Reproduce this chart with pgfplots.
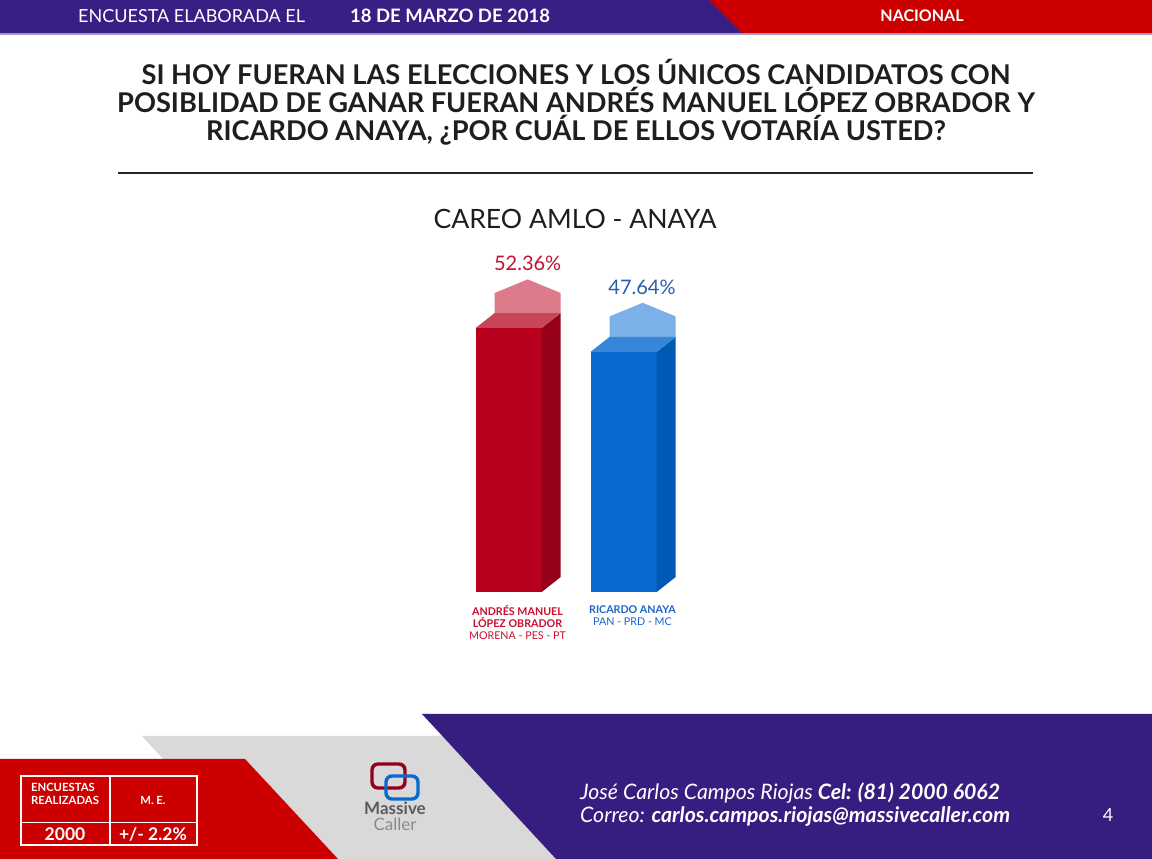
\documentclass[border=0pt]{standalone}
\usepackage{pgfplots}
\pgfplotsset{compat=1.18}
\usepackage{fontspec}
\setmainfont{Lato}
\definecolor{hpurple}{RGB}{57,30,132}
\definecolor{fpurple}{RGB}{55,29,128}
\definecolor{hred}{RGB}{204,0,0}
\definecolor{fgray}{RGB}{217,217,217}
\definecolor{titlec}{RGB}{30,30,30}
\definecolor{redfront}{RGB}{184,0,30}
\definecolor{redside}{RGB}{150,0,24}
\definecolor{redtop}{RGB}{200,68,88}
\definecolor{redpent}{RGB}{220,124,138}
\definecolor{bluefront}{RGB}{8,106,210}
\definecolor{blueside}{RGB}{0,90,180}
\definecolor{bluetop}{RGB}{56,134,218}
\definecolor{bluepent}{RGB}{124,176,232}
\definecolor{redlab}{RGB}{192,18,44}
\definecolor{bluelab}{RGB}{42,93,176}
\definecolor{redtick}{RGB}{200,16,46}
\definecolor{bluetick}{RGB}{30,100,200}
\definecolor{logogray}{RGB}{90,90,90}
\begin{document}
\begin{tikzpicture}[x=1pt,y=1pt]
\fill[white] (0,0) rectangle (1152,859);
\begin{scope}[x=1pt,y=-1pt,shift={(0pt,859pt)}]
% header
\fill[hpurple] (0,0) rectangle (1152,33);
\fill[hred] (709,0) -- (1152,0) -- (1152,33) -- (742,33) -- cycle;
\fill[hpurple!45!white] (0,33) rectangle (1152,35);
\node[anchor=base west, text=white, font=\fontsize{18}{20}\selectfont, inner sep=0] at (78,22.3) {ENCUESTA ELABORADA EL};
\node[anchor=base west, text=white, font=\bfseries\fontsize{18.5}{20}\selectfont, inner sep=0] at (350,22.3) {18 DE MARZO DE 2018};
\node[anchor=base, text=white, font=\bfseries\fontsize{16}{18}\selectfont, inner sep=0] at (922,21.8) {NACIONAL};
% title
\node[anchor=base, text=titlec, font=\bfseries\fontsize{27.2}{30}\selectfont, inner sep=0] at (576,84.5) {SI HOY FUERAN LAS ELECCIONES Y LOS ÚNICOS CANDIDATOS CON};
\node[anchor=base, text=titlec, font=\bfseries\fontsize{27.2}{30}\selectfont, inner sep=0] at (576,112.5) {POSIBLIDAD DE GANAR FUERAN ANDRÉS MANUEL LÓPEZ OBRADOR Y};
\node[anchor=base, text=titlec, font=\bfseries\fontsize{27.2}{30}\selectfont, inner sep=0] at (576,140.5) {RICARDO ANAYA, ¿POR CUÁL DE ELLOS VOTARÍA USTED?};
\draw[line width=1.5, black!85] (118,173) -- (1033,173);
\node[anchor=base, text=titlec, font=\fontsize{26.6}{30}\selectfont, inner sep=0] at (575,228.5) {CAREO AMLO - ANAYA};
% footer shapes
\fill[fgray] (142,736) -- (900,736) -- (900,859) -- (255,859) -- cycle;
\fill[hred] (0,759) -- (245,759) -- (338,859) -- (0,859) -- cycle;
\fill[fpurple] (422,714) -- (1152,714) -- (1152,859) -- (556,859) -- cycle;
% table
\draw[white, line width=1.5] (21,776) rectangle (197,845);
\draw[white, line width=1.5] (110,776) -- (110,845);
\draw[white, line width=1.5] (21,822.5) -- (197,822.5);
\node[text=white, font=\bfseries\fontsize{11.3}{13.5}\selectfont, align=left, inner sep=0] at (65,794) {ENCUESTAS\\REALIZADAS};
\node[anchor=base, text=white, font=\bfseries\fontsize{11.3}{13}\selectfont, inner sep=0] at (153,804.5) {M. E.};
\node[anchor=base, text=white, font=\bfseries\fontsize{17.5}{20}\selectfont, inner sep=0] at (65,840.5) {2000};
\node[anchor=base, text=white, font=\bfseries\fontsize{17.5}{20}\selectfont, inner sep=0] at (153,840.5) {+/- 2.2\%};
% logo
\draw[redfront!80!black, line width=3.4, rounded corners=6] (372,764) rectangle (405,788);
\draw[bluefront, line width=3.4, rounded corners=6] (386,776) rectangle (418,799);
\node[anchor=base, text=logogray, font=\bfseries\fontsize{17}{20}\selectfont, inner sep=0] at (395,815) {Massive};
\node[anchor=base, text=logogray!70, font=\fontsize{17}{20}\selectfont, inner sep=0] at (395,831) {Caller};
% footer text
\node[anchor=base west, text=white, font=\itshape\fontsize{21.3}{24}\selectfont, inner sep=0] at (580,799.5) {José Carlos Campos Riojas \textbf{Cel: (81) 2000 6062}};
\node[anchor=base west, text=white, font=\itshape\fontsize{21.3}{24}\selectfont, inner sep=0] at (580,822.5) {Correo: \textbf{carlos.campos.riojas@massivecaller.com}};
\node[anchor=base, text=white, font=\fontsize{18}{22}\selectfont, inner sep=0] at (1108,822) {4};
\end{scope}
\begin{axis}[
  at={(393.7pt,267pt)}, anchor=south west,
  scale only axis, width=345pt, height=327.73pt,
  xmin=-1, xmax=2, ymin=0, ymax=65,
  clip=false,
  axis y line=none,
  axis x line*=bottom,
  x axis line style={draw=none},
  major tick length=0pt,
  xtick={0,1},
  xticklabels={
    {\textcolor{redtick}{\textbf{ANDRÉS MANUEL}}\\\textcolor{redtick}{\textbf{LÓPEZ OBRADOR}}\\\textcolor{redtick}{MORENA - PES - PT}},
    {\textcolor{bluetick}{\textbf{RICARDO ANAYA}}\\\textcolor{bluetick}{PAN - PRD - MC}}
  },
  xticklabel style={align=center, font=\fontsize{10.7}{12}\selectfont, anchor=north, xshift=8.8pt, yshift=-13pt, inner sep=0pt},
]
% AMLO 52.36
\addplot[draw=none, fill=redpent] coordinates {(-0.122,55.33) (-0.122,59.3) (0.165,62.0) (0.452,59.3) (0.452,55.33)} -- cycle;
\addplot[ybar, bar width=0.574, bar shift=0, draw=none, fill=redfront] coordinates {(0,52.36)};
\addplot[draw=none, fill=redside] coordinates {(0.287,0) (0.452,2.97) (0.452,55.33) (0.287,52.36)} -- cycle;
\addplot[draw=none, fill=redtop] coordinates {(-0.287,52.36) (0.287,52.36) (0.452,55.33) (-0.122,55.33)} -- cycle;
% ANAYA 47.64
\addplot[draw=none, fill=bluepent] coordinates {(0.878,50.61) (0.878,54.66) (1.165,57.36) (1.452,54.66) (1.452,50.61)} -- cycle;
\addplot[ybar, bar width=0.574, bar shift=0, draw=none, fill=bluefront] coordinates {(1,47.64)};
\addplot[draw=none, fill=blueside] coordinates {(1.287,0) (1.452,2.97) (1.452,50.61) (1.287,47.64)} -- cycle;
\addplot[draw=none, fill=bluetop] coordinates {(0.713,47.64) (1.287,47.64) (1.452,50.61) (0.878,50.61)} -- cycle;
\node[text=redlab, font=\fontsize{20}{24}\selectfont] at (axis cs:0.165,65.2) {52.36\%};
\node[text=bluelab, font=\fontsize{20}{24}\selectfont] at (axis cs:1.159,60.5) {47.64\%};
\end{axis}
\end{tikzpicture}
\end{document}
